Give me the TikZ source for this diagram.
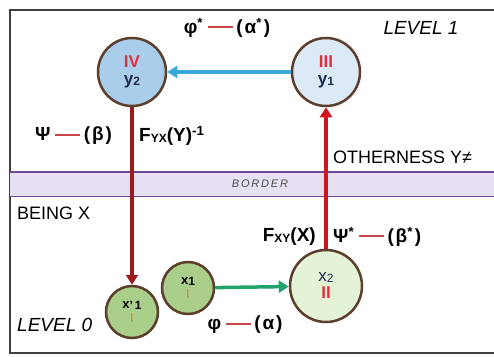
\documentclass[tikz,border=0pt]{standalone}
\usepackage{fontspec}
\setmainfont{Liberation Sans}
\usetikzlibrary{arrows.meta}

\definecolor{ringbrown}{HTML}{5C3E2C}
\definecolor{romanred}{HTML}{E0303C}
\definecolor{navytxt}{HTML}{1E2A50}
\definecolor{skyfill}{HTML}{A9CDEB}
\definecolor{paleblue}{HTML}{DCEAF7}
\definecolor{palegreen}{HTML}{E4F2D6}
\definecolor{leafgreen}{HTML}{A9CF8B}
\definecolor{bandfill}{HTML}{E6E0F2}
\definecolor{bandline}{HTML}{6A4A92}
\definecolor{arrowblue}{HTML}{3AA8DA}
\definecolor{arrowred}{HTML}{D3141E}
\definecolor{arrowdark}{HTML}{9C1A1E}
\definecolor{arrowgreen}{HTML}{22A36A}
\definecolor{dashred}{HTML}{C8464A}
\definecolor{oneorange}{HTML}{D08A30}

\newcommand{\lowtxt}[1]{\raisebox{-1pt}{\fontsize{12}{12}\selectfont #1}}
\newcommand{\reddash}{\hspace{0.25em}{\color{dashred}\rule[0.28em]{1.3em}{0.11em}}\hspace{0.2em}}
\newcommand{\paren}[1]{(\hspace{0.1em}#1\hspace{0.1em})}

\begin{document}
\begin{tikzpicture}[x=1pt,y=-1pt,
	level/.style={circle, draw=ringbrown, line width=2.5pt, inner sep=0pt, align=center,
		font=\bfseries\fontsize{17}{19}\selectfont},
	link/.style={line width=3.5pt, -{Triangle[length=10pt,width=12pt]}},
	lbl/.style={font=\fontsize{18}{18}\selectfont, inner sep=0pt},
	greek/.style={font=\bfseries\fontsize{19}{19}\selectfont, inner sep=0pt}]
	
	\useasboundingbox (0,0) rectangle (494,356);
	
	% ---- Frame and border band ----
	\draw[line width=1.2pt, black!75] (494,10) -- (10,10) -- (10,353) -- (494,353);
	\fill[bandfill] (10,172) rectangle (494,196);
	\draw[bandline, line width=1.8pt] (10,172) -- (494,172);
	\draw[bandline, line width=1pt] (10,196) -- (494,196);
	\node[font=\itshape\fontsize{11}{11}\selectfont, text=black!70] (border) at (260,184)
		{B\,O\,R\,D\,E\,R};
	
	% ---- Level 1 circles ----
	\node[level, fill=skyfill, minimum size=68pt] (y2) at (132,72)
		{{\color{romanred}IV}\\[-2pt]{\color{navytxt}y\lowtxt{2}}};
	\node[level, fill=paleblue, minimum size=68pt] (y1) at (326,72)
		{{\color{romanred}III}\\[-2pt]{\color{navytxt}y\lowtxt{1}}};
	
	% ---- Level 0 circles ----
	\node[level, fill=palegreen, minimum size=72pt] (x2) at (326,286)
		{{\mdseries\color{navytxt}x\lowtxt{2}}\\[-2pt]{\color{romanred}II}};
	\foreach \name/\pos/\txt in {x1/{(188,288)}/x\lowtxt{1}, xp1/{(132,312)}/x\lowtxt{'\,1}}
	{
		\node[level, fill=leafgreen, minimum size=52pt, font=\bfseries\fontsize{13}{16}\selectfont]
			(\name) at \pos {\txt\\[-2pt]{\mdseries\color{oneorange}I}};
	}
	
	% ---- Connectors ----
	\draw[link, arrowblue] (y1) -- (y2);
	\draw[link, arrowred] (x2) -- (y1);
	\draw[link, arrowdark] (y2) -- (xp1);
	\draw[link, arrowgreen] (x1) -- (x2);
	
	% ---- Labels ----
	\node[greek] (phistar) at (227,28) {φ\textsuperscript{*}\reddash\paren{α\textsuperscript{*}}};
	\node[lbl, font=\itshape\fontsize{19}{19}\selectfont] (lvlone) at (421,28) {LEVEL 1};
	\node[greek, anchor=west] (psi) at (35,136) {Ψ\reddash\paren{β}};
	\node[greek, anchor=west] (fyx) at (139,136) {F\lowtxt{YX}(Y)\textsuperscript{-1}};
	\node[lbl, anchor=west] (other) at (333,157) {OTHERNESS Y≠};
	\node[lbl, anchor=west] (being) at (17,213) {BEING X};
	\node[greek, anchor=east] (fxy) at (316,237) {F\lowtxt{XY}(X)};
	\node[greek, anchor=west] (psistar) at (333,237) {Ψ\textsuperscript{*}\reddash\paren{β\textsuperscript{*}}};
	\node[lbl, anchor=west, font=\itshape\fontsize{19}{19}\selectfont] (lvlzero) at (17,325) {LEVEL 0};
	\node[greek] (phi) at (245,325) {φ\reddash\paren{α}};
	
\end{tikzpicture}
\end{document}
